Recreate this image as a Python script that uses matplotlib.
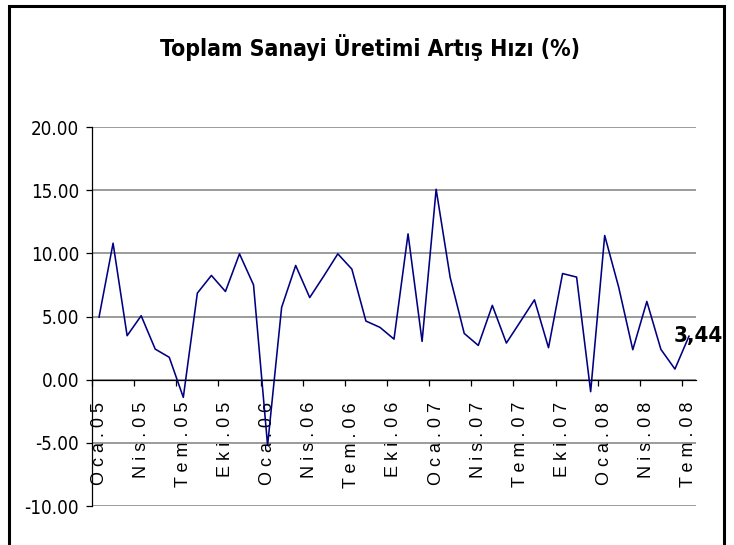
import matplotlib
matplotlib.use("Agg")
import matplotlib.pyplot as plt
from matplotlib.patches import Rectangle
from matplotlib.ticker import FixedLocator
from matplotlib import font_manager as fm

months = ["Oca", "Şub", "Mar", "Nis", "May", "Haz", "Tem", "Ağu", "Eyl", "Eki", "Kas", "Ara"]
years = ["05", "06", "07", "08"]
categories = [f"{m}.{y}" for y in years for m in months][:43]

values = [4.95, 10.80, 3.48, 5.06, 2.42, 1.77, -1.40, 6.85, 8.25, 6.98, 9.96, 7.50,
          -5.20, 5.72, 9.04, 6.50, 8.20, 9.96, 8.75, 4.64, 4.14, 3.21, 11.54, 3.03,
          15.07, 8.09, 3.66, 2.71, 5.88, 2.90, 4.60, 6.32, 2.53, 8.40, 8.12, -0.95,
          11.41, 7.30, 2.37, 6.19, 2.40, 0.84, 3.44]

title = "Toplam Sanayi Üretimi Artış Hızı (%)"
last_label = "3,44"
yticks = [-10, -5, 0, 5, 10, 15, 20]


def narrow_font(bold):
    """Find a condensed/narrow sans font file; fall back to None."""
    want_w = 700 if bold else 400
    cands = []
    for f in fm.fontManager.ttflist:
        nm = f.name.lower()
        path = f.fname.lower()
        is_narrow = ("narrow" in nm or "condensed" in nm or "narrow" in path
                     or "condensed" in path or f.stretch in ("condensed", "semi-condensed"))
        if not is_narrow or f.style != "normal":
            continue
        if "mono" in nm or ("serif" in nm and "sans" not in nm):
            continue
        try:
            w = int(f.weight)
        except Exception:
            w = 700 if "bold" in str(f.weight) else 400
        if "liberation" in nm or "arial" in nm:
            rank = 0
        elif "dejavu" in nm:
            rank = 1
        else:
            rank = 2
        cands.append((rank, abs(w - want_w), f.fname))
    if cands:
        cands.sort()
        if cands[0][1] <= 150:
            return fm.FontProperties(fname=cands[0][2])
    return None


fp_narrow_b = narrow_font(True)
fp_narrow_r = narrow_font(False)
regular = ["Liberation Sans", "DejaVu Sans"]

W, H = 734, 545
fig = plt.figure(figsize=(W / 100, H / 100), dpi=100)
fig.patch.set_facecolor("white")

ax = fig.add_axes([92 / W, (H - 506) / H, 604 / W, 379 / H])
x = list(range(len(values)))
ax.plot(x, values, color="#000080", lw=1.15, zorder=3)

ax.set_xlim(-0.5, len(values) - 0.5)
ax.set_ylim(-10, 20)

ax.set_yticks(yticks)
ylabels = ax.set_yticklabels([f"{v:.2f}" for v in yticks])
for t in ylabels:
    if fp_narrow_r is not None:
        t.set_fontproperties(fp_narrow_r)
        t.set_fontsize(13.5)
    else:
        t.set_fontfamily(regular)
        t.set_fontsize(13)
ax.yaxis.grid(True, color="#808080", lw=1.1)
ax.set_axisbelow(True)
ax.tick_params(axis="y", direction="out", length=4.3, width=0.9, color="black", pad=5)

for s in ["top", "right"]:
    ax.spines[s].set_visible(False)
ax.spines["left"].set_color("black")
ax.spines["left"].set_linewidth(0.9)
ax.spines["bottom"].set_position(("data", 0))
ax.spines["bottom"].set_color("black")
ax.spines["bottom"].set_linewidth(0.9)

label_idx = list(range(0, len(values), 3))
ax.set_xticks(label_idx)
ax.set_xticklabels([" ".join(categories[i]) for i in label_idx], rotation=90,
                   fontfamily=regular, fontsize=13)
ax.tick_params(axis="x", which="major", length=0, pad=16)
ax.xaxis.set_minor_locator(FixedLocator([i - 0.5 for i in range(0, len(values) + 1, 3)]))
ax.tick_params(axis="x", which="minor", direction="out", length=4, width=0.9, color="black")

if fp_narrow_b is not None:
    kw_b = dict(fontproperties=fp_narrow_b)
    size_t, size_l = 16.5, 16
else:
    kw_b = dict(fontfamily=regular, fontweight="bold")
    size_t, size_l = 16, 15

ann = ax.annotate(last_label, xy=(x[-1], values[-1]), xytext=(7, 0), textcoords="offset points",
                  ha="center", va="center", annotation_clip=False, zorder=4, **kw_b)
ann.set_fontsize(size_l)

tt = fig.text(370 / W, 1 - 48 / H, title, ha="center", va="center", **kw_b)
tt.set_fontsize(size_t)

fig.patches.append(Rectangle((9 / W, -0.05), (724 - 9) / W, 1.05 - 6 / H,
                             transform=fig.transFigure, fill=False,
                             edgecolor="black", lw=2.2))

fig.savefig("out.png", dpi=100, facecolor="white")
